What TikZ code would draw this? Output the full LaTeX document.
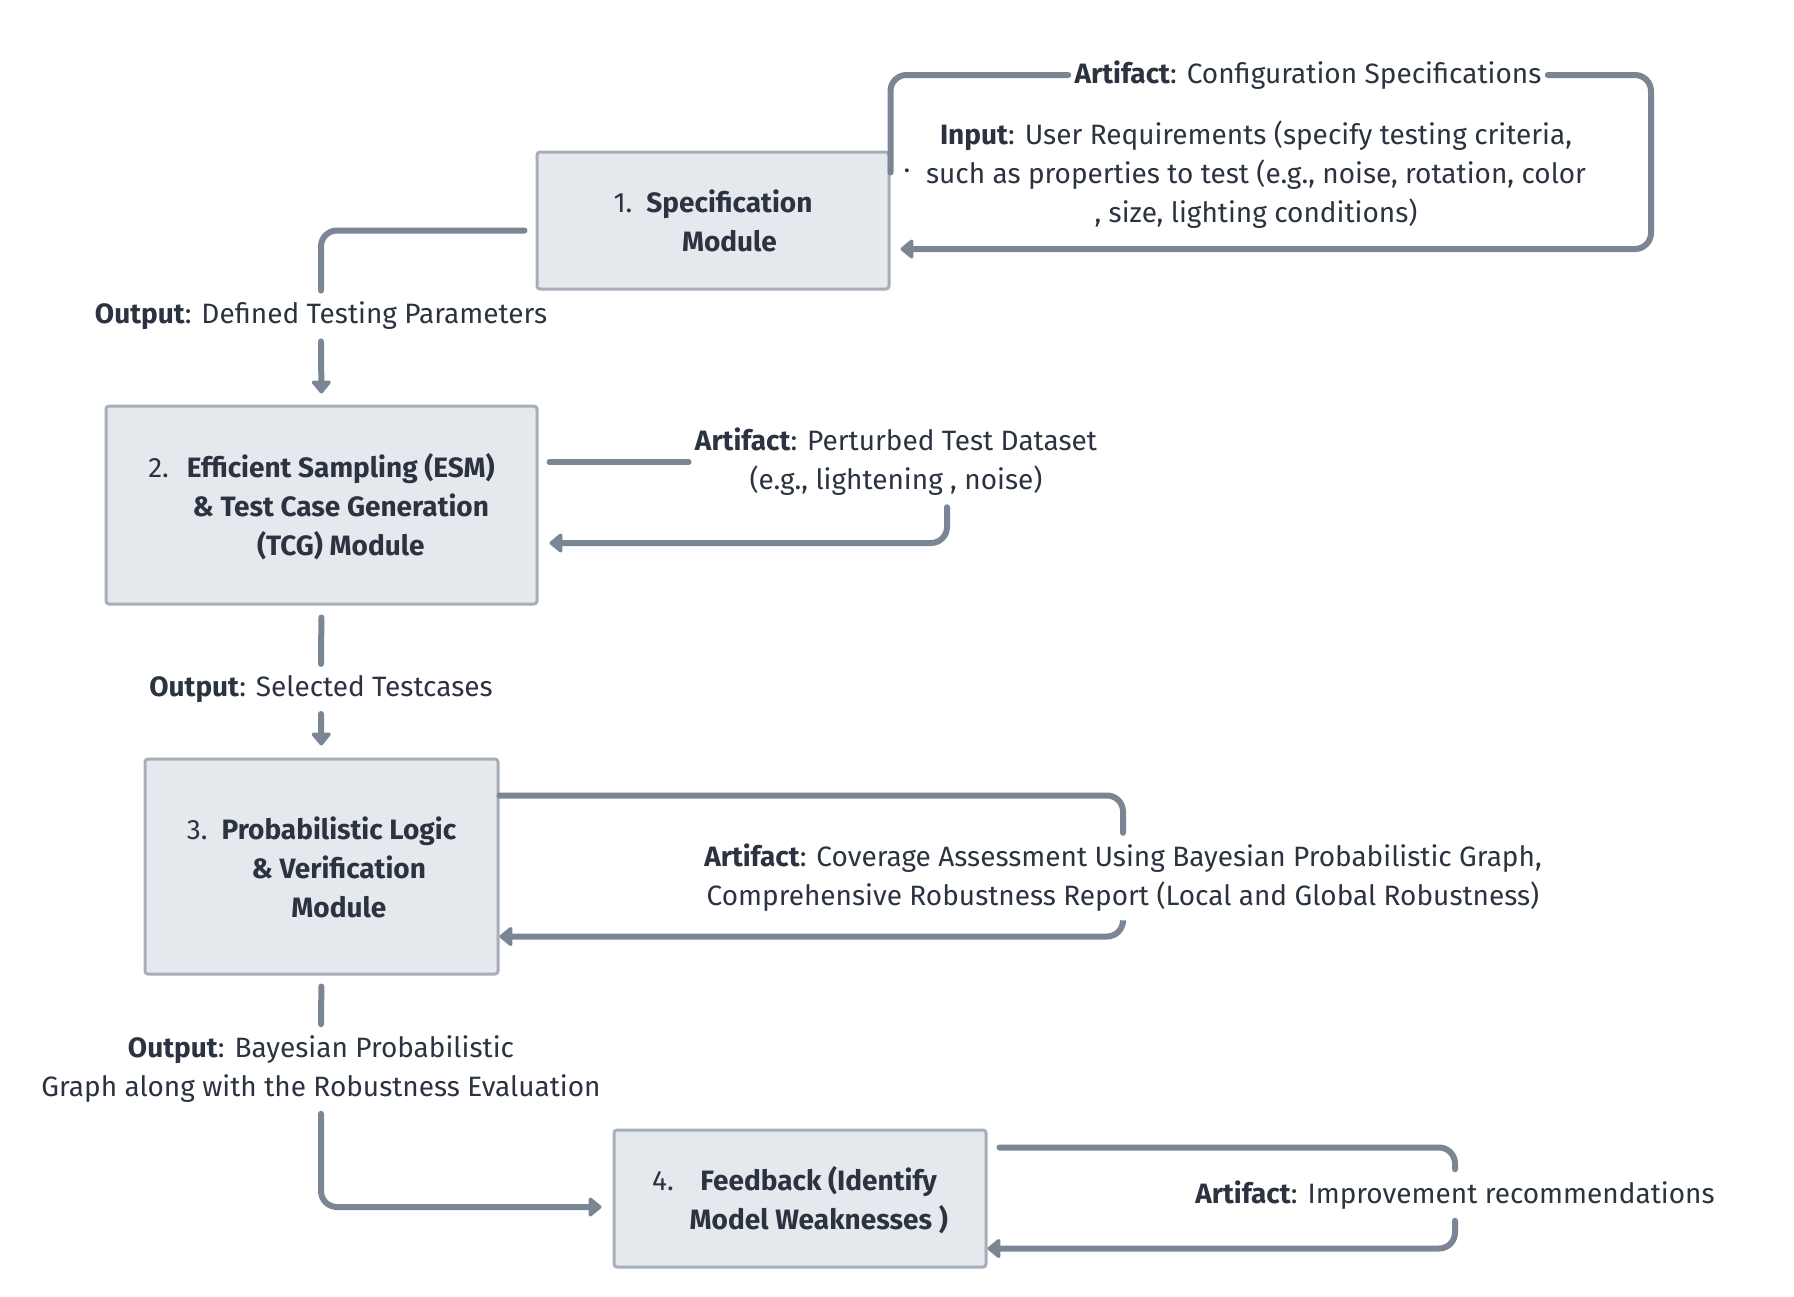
\documentclass[tikz,border=0pt]{standalone}
\usepackage{fontspec}
\setmainfont{Fira Sans}
\usepackage{xcolor}
\usetikzlibrary{positioning,arrows.meta,calc}
\definecolor{TextDark}{HTML}{2B3340}
\definecolor{LineGrey}{HTML}{7B8694}
\definecolor{BoxFill}{HTML}{E5E8ED}
\definecolor{BoxEdge}{HTML}{A5AEB9}
\newcommand{\lowertext}[1]{\raisebox{-2pt}[\height][\depth]{#1}}

\begin{document}
\begin{tikzpicture}[x=0.5pt,y=-0.5pt,
    every node/.style={font=\fontsize{14pt}{19.5pt}\selectfont, text=TextDark},
    mod/.style={draw=BoxEdge, fill=BoxFill, line width=1.5pt, rounded corners=1.5pt,
                inner sep=0pt, align=center},
    lbl/.style={align=center, inner xsep=3pt, inner ysep=5.5pt},
    ln/.style={LineGrey, line width=3pt, rounded corners=8pt, line cap=round},
    ar/.style={ln, -{Triangle[length=7pt,width=11pt,round]}}]
  \useasboundingbox (0,0) rectangle (1794,1296);

  % modules
  \node[mod, minimum width=176pt, minimum height=68.5pt] (m1) at (713,220.5)
    {\lowertext{\begin{tabular}{@{}r@{\hspace{7pt}}c@{}}
     1. & \textbf{Specification}\\
        & \textbf{Module}\end{tabular}}};
  \node[mod, minimum width=215.5pt, minimum height=99pt] (m2) at (321.5,505)
    {\lowertext{\begin{tabular}{@{}r@{\hspace{9pt}}c@{}}
     2. & \textbf{Efficient Sampling (ESM)}\\
        & \textbf{\& Test Case Generation}\\
        & \textbf{(TCG) Module}\end{tabular}}};
  \node[mod, minimum width=176.5pt, minimum height=107.5pt] (m3) at (321.5,866.5)
    {\lowertext{\begin{tabular}{@{}r@{\hspace{7pt}}c@{}}
     3. & \textbf{Probabilistic Logic}\\
        & \textbf{\& Verification}\\
        & \textbf{Module}\end{tabular}}};
  \node[mod, minimum width=186pt, minimum height=68.5pt] (m4) at (800,1198.5)
    {\lowertext{\begin{tabular}{@{}r@{\hspace{8pt}}c@{}}
     4. & \textbf{Feedback (Identify}\\
        & \textbf{Model Weaknesses )}\end{tabular}}};

  % labels
  \node[lbl] (a1) at (1308,75) {\textbf{Artifact}: Configuration Specifications};
  \node[lbl] (in1) at (1256,175)
    {\textbf{Input}: User Requirements (specify testing criteria,\\
     such as properties to test (e.g., noise, rotation, color\\
     , size, lighting conditions)};
  \node[inner sep=0pt] (dot) at (907,174) {\textperiodcentered};
  \node[lbl] (o1) at (321,316) {\textbf{Output}: Defined Testing Parameters};
  \node[lbl] (a2) at (896,462) {\textbf{Artifact}: Perturbed Test Dataset\\
                                (e.g., lightening , noise)};
  \node[lbl] (o2) at (321,689) {\textbf{Output}: Selected Testcases};
  \node[lbl] (a3) at (1123,878)
    {\textbf{Artifact}: Coverage Assessment Using Bayesian Probabilistic Graph,\\
     Comprehensive Robustness Report (Local and Global Robustness)};
  \node[lbl] (o3) at (321,1069) {\textbf{Output}: Bayesian Probabilistic\\
                                 Graph along with the Robustness Evaluation};
  \node[lbl] (a4) at (1455,1195) {\textbf{Artifact}: Improvement recommendations};

  % connectors
  \coordinate (r1) at (1651,249);
  \coordinate (r2) at (947,543);
  \draw[ln] ($(m1.north east)+(0,22)$) |- (a1.west);
  \draw[ar, shorten >=5pt] (a1.east) -| (r1) -- (r1 -| m1.east);
  \draw[ln] ($(m1.west)+(-11,10)$) -| (o1.north);
  \draw[ar, shorten >=5.5pt] (o1.south) -- (m2.north);
  \draw[ln] ([xshift=5.5pt]a2.west -| m2.east) -- (a2.west);
  \draw[ar, shorten >=5.5pt] (a2.south -| r2) |- (r2 -| m2.east);
  \draw[ln, shorten <=6pt] (m2.south) -- (o2.north);
  \draw[ar, shorten >=6pt] (o2.south) -- (m3.north);
  \draw[ln] ($(m3.north east)+(0,38)$) -| (a3.north);
  \draw[ar] (a3.south) |- ($(m3.south east)+(0,-39)$);
  \draw[ln, shorten <=5.5pt] (m3.south) -- (o3.north);
  \draw[ar, shorten >=5.5pt] (o3.south) |- ($(m4.west)+(0,8.5)$);
  \draw[ln] ($(m4.north east)+(12,19)$) -| (a4.north);
  \draw[ar] (a4.south) |- ($(m4.south east)+(0,-20)$);
\end{tikzpicture}
\end{document}
